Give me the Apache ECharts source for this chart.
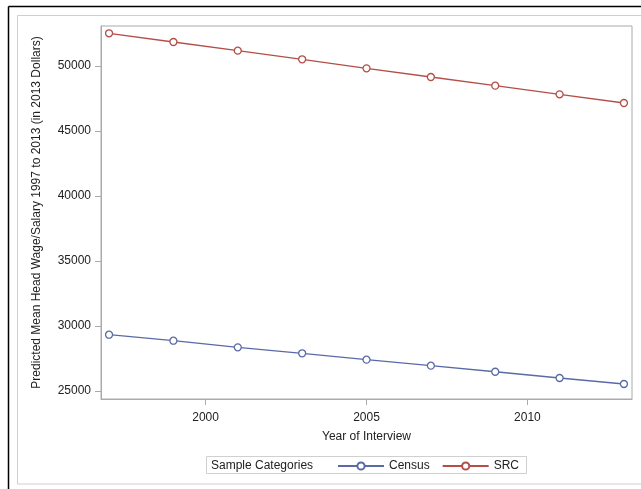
<!DOCTYPE html>
<html>
<head>
<meta charset="utf-8">
<script src="https://cdn.jsdelivr.net/npm/echarts@6/dist/echarts.min.js"></script>
<style>
html,body{margin:0;padding:0;background:#fff;}
#c{width:641px;height:489px;}
</style>
</head>
<body>
<div id="c"></div>
<script>
const years = [1997, 1999, 2001, 2003, 2005, 2007, 2009, 2011, 2013];
const census = [29330, 28870, 28360, 27900, 27410, 26950, 26480, 26000, 25540];
const src = [52515, 51846, 51180, 50515, 49821, 49154, 48487, 47821, 47154];
const xTicks = [2000, 2005, 2010];
const yTicks = [25000, 30000, 35000, 40000, 45000, 50000];
const seriesNames = ['Census', 'SRC'];
const legendTitle = 'Sample Categories';
const xTitle = 'Year of Interview';
const yTitle = 'Predicted Mean Head Wage/Salary 1997 to 2013 (in 2013 Dollars)';

const blue = '#5a6aa6';
const red = '#b44e47';
const font = 'Liberation Sans, Arial, sans-serif';

const chart = echarts.init(document.getElementById('c'), null, {renderer: 'canvas'});
const mk = (name, vals, color) => ({
  name: name,
  type: 'line',
  data: years.map((y, i) => [y, vals[i]]),
  symbol: 'circle',
  symbolSize: 7,
  showSymbol: true,
  lineStyle: {color: color, width: 1.3},
  itemStyle: {color: '#fff', borderColor: color, borderWidth: 1.3},
  emphasis: {disabled: true},
  animation: false
});

chart.setOption({
  animation: false,
  grid: {left: 101, top: 26, right: 9, bottom: 90, show: true, borderColor: '#aaaaaa', borderWidth: 1, backgroundColor: '#fff'},
  xAxis: {
    type: 'value', min: 1996.75, max: 2013.25,
    name: xTitle, nameLocation: 'middle', nameGap: 32,
    nameTextStyle: {fontFamily: font, fontSize: 12, color: '#222'},
    axisLine: {show: true, lineStyle: {color: '#aaaaaa'}},
    axisTick: {show: true, length: 6, lineStyle: {color: '#aaaaaa'}, customValues: xTicks},
    axisLabel: {fontFamily: font, fontSize: 12, color: '#222', margin: 13, customValues: xTicks, formatter: v => String(v)},
    splitLine: {show: false}
  },
  yAxis: {
    type: 'value', min: 24385, max: 53077,
    name: yTitle, nameLocation: 'middle', nameGap: 58, nameRotate: 90,
    nameTextStyle: {fontFamily: font, fontSize: 12, color: '#222'},
    axisLine: {show: true, lineStyle: {color: '#aaaaaa'}},
    axisTick: {show: true, length: 6, lineStyle: {color: '#aaaaaa'}, customValues: yTicks},
    axisLabel: {fontFamily: font, fontSize: 12, color: '#222', margin: 10, customValues: yTicks, formatter: v => String(v)},
    splitLine: {show: false}
  },
  legend: {
    data: seriesNames,
    left: 337, top: 460, itemWidth: 46, itemHeight: 9, itemGap: 12,
    textStyle: {fontFamily: font, fontSize: 12, color: '#222'},
    padding: 0, selectedMode: false
  },
  graphic: [
    {type: 'line', shape: {x1: 8.5, y1: 6.5, x2: 641, y2: 6.5}, style: {stroke: '#000', lineWidth: 1.5}},
    {type: 'line', shape: {x1: 8.5, y1: 6.5, x2: 8.5, y2: 489}, style: {stroke: '#000', lineWidth: 1.5}},
    {type: 'rect', shape: {x: 17.5, y: 15.5, width: 640, height: 468.5}, style: {fill: 'none', stroke: '#cfcfcf', lineWidth: 1}},
    {type: 'rect', shape: {x: 206.5, y: 456.5, width: 320, height: 17}, style: {fill: 'none', stroke: '#d0d0d0', lineWidth: 1}},
    {type: 'text', x: 211, y: 459.5, style: {text: legendTitle, font: '12px ' + font, fill: '#222', verticalAlign: 'top'}}
  ],
  series: [mk(seriesNames[0], census, blue), mk(seriesNames[1], src, red)]
});
</script>
</body>
</html>
